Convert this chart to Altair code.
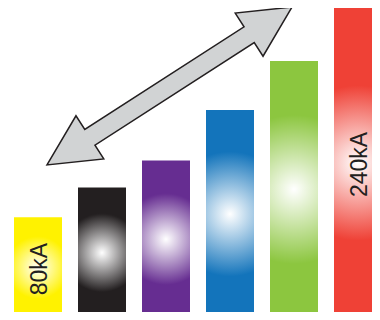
import altair as alt
import pandas as pd

# ---- data ----
categories = ["A", "B", "C", "D", "E", "F"]
values_kA = [78, 101, 122, 161, 199, 240]
labels = ["80kA", "", "", "", "", "240kA"]

# ---- styles ----
bar_colors = ["#fff200", "#231f20", "#662d91", "#1374bb", "#8cc63f", "#ef4136"]
glow_radius = [0.31, 0.3, 0.29, 0.3, 0.29, 0.25]
BAR_FRAC = 0.75  # bar width as fraction of step
W, H = 364, 304
PX_PER_KA = 310 / 240

df = pd.DataFrame({"cat": categories, "v": values_kA, "label": labels,
                   "i": list(range(len(categories)))})

xscale = alt.Scale(domain=[-0.09375, -0.09375 + W / 64], nice=False, zero=False)
yscale = alt.Scale(domain=[(310 - H) / PX_PER_KA, 240], nice=False, zero=False)

layers = []
for cat, col, r in zip(categories, bar_colors, glow_radius):
    grad = {
        "gradient": "radial",
        "x1": 0.5, "y1": 0.5, "r1": 0,
        "x2": 0.5, "y2": 0.5, "r2": r,
        "stops": [
            {"offset": 0, "color": "#ffffff"},
            {"offset": 1, "color": col},
        ],
    }
    layers.append(
        alt.Chart(df)
        .transform_filter(alt.datum.cat == cat)
        .transform_calculate(i_end=f"datum.i + {BAR_FRAC}", base="0")
        .mark_bar(color=grad, fill=grad, clip=True)
        .encode(
            x=alt.X("i:Q", scale=xscale, axis=None),
            x2="i_end:Q",
            y=alt.Y("v:Q", scale=yscale, axis=None),
            y2="base:Q",
        )
    )

text = (
    alt.Chart(df)
    .transform_filter(alt.datum.label != "")
    .transform_calculate(mid="datum.v / 2", xc=f"datum.i + {BAR_FRAC / 2}")
    .mark_text(angle=270, fontSize=23, font="Liberation Sans", color="#231f20",
               align="center", baseline="middle", dx=-1.5, dy=1.5)
    .encode(x=alt.X("xc:Q", scale=xscale, axis=None),
            y=alt.Y("mid:Q", scale=yscale, axis=None),
            text="label:N")
)

arrow_path = ("M -1 0 L -0.65 -0.176 L -0.65 -0.0645 L 0.65 -0.0645 L 0.65 -0.176 "
              "L 1 0 L 0.65 0.176 L 0.65 0.0645 L -0.65 0.0645 L -0.65 0.176 Z")
arrow = (
    alt.Chart(pd.DataFrame({"arrow": ["range"]}))
    .mark_point(shape=arrow_path, filled=True, fill="#d1d3d4", stroke="#231f20",
                strokeWidth=1.5, opacity=1, fillOpacity=1, strokeJoin="miter",
                size=84972, angle=327.2)
    .encode(x=alt.value(161.5), y=alt.value(78))
)

chart = (
    alt.layer(*layers, text, arrow)
    .properties(width=W, height=H, autosize="none", padding=0)
    .configure_view(strokeWidth=0)
)

chart.save("out.html", embed_options={"renderer": "svg", "actions": False})
